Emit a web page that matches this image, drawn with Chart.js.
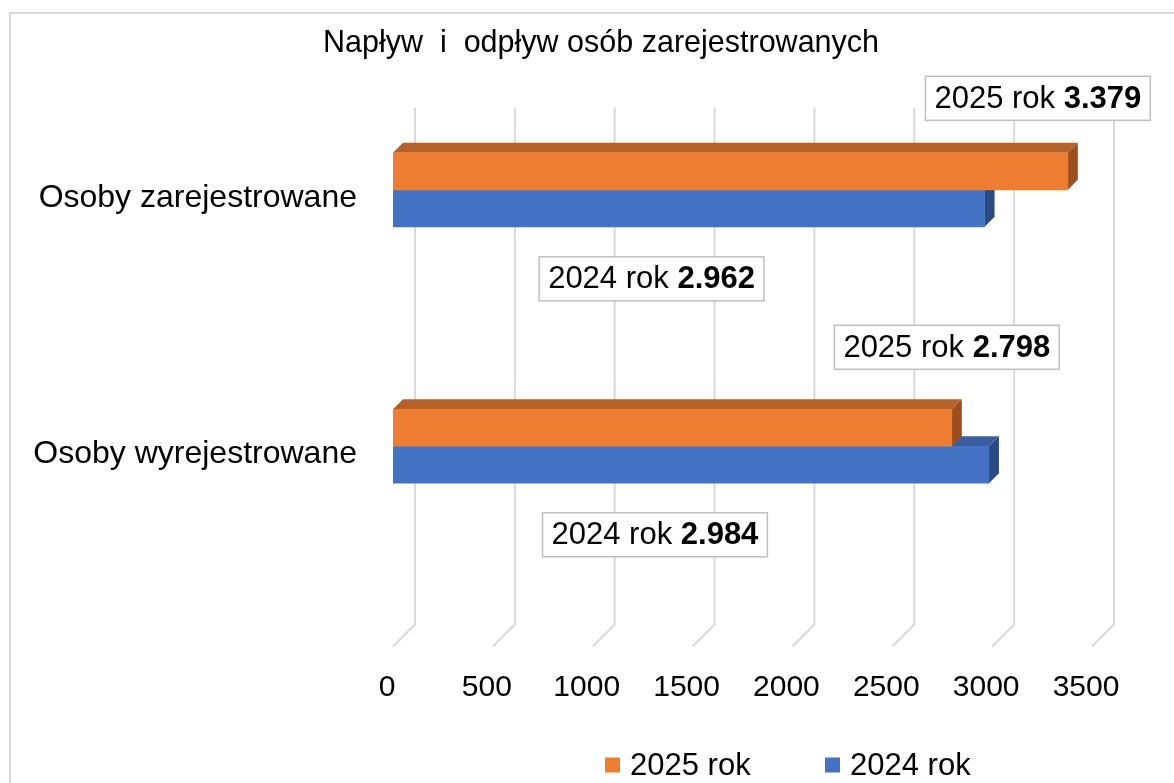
<!DOCTYPE html>
<html lang="pl">
<head>
<meta charset="utf-8">
<title>Napływ i odpływ osób zarejestrowanych</title>
<script src="https://cdn.jsdelivr.net/npm/chart.js@4.4.1/dist/chart.umd.min.js"></script>
<style>
    html, body { margin: 0; padding: 0; background: #fff; overflow: hidden; }
    #ramka { position: absolute; left: 9px; top: 12px; width: 1200px; height: 800px; border: 2px solid #d9d9d9; }
    #wykres { position: absolute; left: 0; top: 0; }
</style>
</head>
<body>
<div id="ramka"></div>
<canvas id="wykres" width="1174" height="783"></canvas>
<script>
// -------------------- Dane --------------------
const kategorie = ["Osoby zarejestrowane", "Osoby wyrejestrowane"];
const serie = ["2025 rok", "2024 rok"];
const rok2025 = [3379, 2798];
const rok2024 = [2962, 2984];
const osX = [0, 500, 1000, 1500, 2000, 2500, 3000, 3500];

const FONT = "'Liberation Sans', Arial, sans-serif";
const FONT_WASKI = "'Liberation Sans Narrow', 'Liberation Sans', Arial, sans-serif";
const G = 10; // glebokosc 3D

// 3.379 zamiast 3379
function fmt(v) {
    return String(v).replace(/\B(?=(\d{3})+(?!\d))/g, ".");
}

function wielokat(ctx, pkt) {
    ctx.beginPath();
    ctx.moveTo(pkt[0][0], pkt[0][1]);
    for (let i = 1; i < pkt.length; i++) ctx.lineTo(pkt[i][0], pkt[i][1]);
    ctx.closePath();
    ctx.fill();
}

// -------------------- Siatka i boki slupkow --------------------
const siatka3d = {
    id: "siatka3d",
    beforeDatasetsDraw(chart) {
        const { ctx, chartArea, scales: { x } } = chart;
        ctx.save();
        ctx.strokeStyle = "#d9d9d9";
        ctx.lineWidth = 2;
        x.ticks.forEach(t => {
            const xf = x.getPixelForValue(t.value);
            ctx.beginPath();
            ctx.moveTo(xf + 22, chartArea.top + 46);
            ctx.lineTo(xf + 22, chartArea.bottom + 50);
            ctx.lineTo(xf, chartArea.bottom + 72);
            ctx.stroke();
        });

        // najpierw dolny (niebieski), potem gorny (pomaranczowy)
        [1, 0].forEach(di => {
            const ds = chart.data.datasets[di];
            chart.getDatasetMeta(di).data.forEach(bar => {
                const { x: xe, y, base, height } = bar.getProps(["x", "y", "base", "height"], true);
                const t = y - height / 2, b = y + height / 2;
                ctx.fillStyle = ds.kolorGora;
                wielokat(ctx, [[base, t], [xe, t], [xe + G, t - G], [base + G, t - G]]);
                ctx.fillStyle = ds.kolorBok;
                wielokat(ctx, [[xe, t], [xe, b], [xe + G, b - G], [xe + G, t - G]]);
            });
        });
        ctx.restore();
    }
};

// -------------------- Etykiety danych w ramkach --------------------
const etykiety = {
    id: "etykiety",
    afterDraw(chart, args, opts) {
        const ctx = chart.ctx;
        ctx.save();
        chart.data.datasets.forEach((ds, di) => {
            chart.getDatasetMeta(di).data.forEach((bar, i) => {
                const [dx, dy] = opts.przesuniecia[di][i];
                const cx = bar.x + dx, cy = bar.y + dy;
                const cz1 = ds.label + " ", cz2 = fmt(ds.data[i]);
                ctx.font = `31px ${FONT}`;
                const w1 = ctx.measureText(cz1).width;
                ctx.font = `bold 31px ${FONT}`;
                const w2 = ctx.measureText(cz2).width;
                const w = w1 + w2 + 18, h = 44;
                ctx.fillStyle = "#fff";
                ctx.fillRect(cx - w / 2, cy - h / 2, w, h);
                ctx.strokeStyle = "#bfbfbf";
                ctx.lineWidth = 1.5;
                ctx.strokeRect(cx - w / 2, cy - h / 2, w, h);
                ctx.fillStyle = "#000";
                ctx.textBaseline = "middle";
                ctx.textAlign = "left";
                const x0 = cx - (w1 + w2) / 2;
                ctx.font = `31px ${FONT}`;
                ctx.fillText(cz1, x0, cy + 1);
                ctx.font = `bold 31px ${FONT}`;
                ctx.fillText(cz2, x0 + w1, cy + 1);
            });
        });
        ctx.restore();
    }
};

// -------------------- Legenda --------------------
const legenda = {
    id: "legenda",
    afterDraw(chart, args, opts) {
        const ctx = chart.ctx;
        ctx.save();
        ctx.font = `31px ${FONT}`;
        ctx.textBaseline = "middle";
        ctx.textAlign = "left";
        chart.data.datasets.forEach((ds, di) => {
            const x = opts.x[di], y = opts.y;
            ctx.fillStyle = ds.backgroundColor;
            ctx.fillRect(x, y - 7.5, 15, 15);
            ctx.fillStyle = "#000";
            ctx.fillText(ds.label, x + 25, y + 1);
        });
        ctx.restore();
    }
};

const ctx = document.getElementById("wykres").getContext("2d");
new Chart(ctx, {
    type: "bar",
    data: {
        labels: kategorie,
        datasets: [
            {
                label: serie[0],
                data: rok2025,
                backgroundColor: "#ED7D31",
                kolorGora: "#B6602A",
                kolorBok: "#9C4E1E",
                barThickness: 37,
                borderWidth: 0
            },
            {
                label: serie[1],
                data: rok2024,
                backgroundColor: "#4472C4",
                kolorGora: "#3A5EA0",
                kolorBok: "#2B4A84",
                barThickness: 37,
                borderWidth: 0
            }
        ]
    },
    options: {
        indexAxis: "y",
        responsive: false,
        animation: false,
        layout: { padding: { left: 28, right: 0, top: 0, bottom: 0 } },
        scales: {
            x: {
                min: 0,
                max: 3500,
                afterBuildTicks: s => { s.ticks = osX.map(v => ({ value: v })); },
                afterFit: s => {
                    s.height = 208.5;
                    s.paddingLeft = 0;
                    s.paddingRight = 82;
                },
                grid: { display: false, drawTicks: false },
                border: { display: false },
                ticks: {
                    padding: 95.5,
                    labelOffset: -6,
                    color: "#000",
                    font: { family: FONT_WASKI, size: 30 },
                    callback: v => String(v)
                }
            },
            y: {
                afterFit: s => { s.width = 365; },
                grid: { display: false, drawTicks: false },
                border: { display: false },
                ticks: {
                    padding: 36,
                    labelOffset: 8,
                    color: "#000",
                    font: { family: FONT, size: 32 }
                }
            }
        },
        plugins: {
            title: {
                display: true,
                text: "Napływ  i  odpływ osób zarejestrowanych",
                color: "#000",
                font: { family: FONT, size: 30.5, weight: "normal" },
                padding: { top: 25, bottom: 0 }
            },
            legend: { display: false },
            tooltip: { enabled: false },
            etykiety: {
                przesuniecia: [
                    [[-30, -73], [-5, -80.5]],
                    [[-333, 70.5], [-334, 70]]
                ]
            },
            legenda: { x: [605, 825], y: 765 }
        }
    },
    plugins: [siatka3d, etykiety, legenda]
});
</script>
</body>
</html>
